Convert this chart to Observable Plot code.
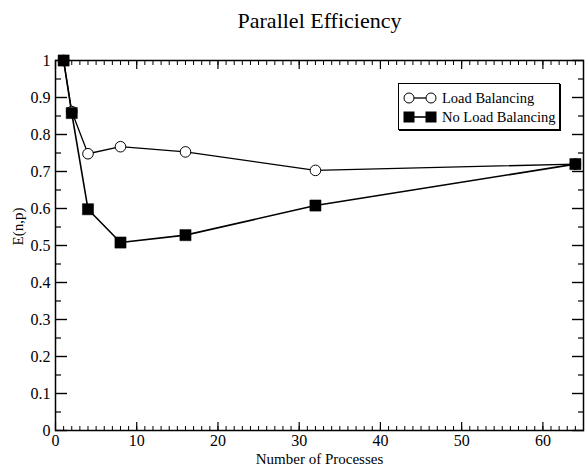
<!DOCTYPE html>
<html>
<head>
<meta charset="utf-8">
<script src="https://cdn.jsdelivr.net/npm/d3@7"></script>
<script src="https://cdn.jsdelivr.net/npm/@observablehq/plot@0.6"></script>
<style>
  html, body { margin: 0; padding: 0; background: #fff; }
  #wrap { position: relative; width: 586px; height: 467px; font-family: "Liberation Serif", serif; }
  #wrap svg text { font-family: "Liberation Serif", serif; }
  #legend { position: absolute; left: 398px; top: 83px; width: 160px; height: 45px; border: 1px solid #000; background: #fff; box-shadow: 1px 1px 0 #000; font-size: 14.5px; color: #000; font-family: "Liberation Serif", serif; }
  #legend .row { position: absolute; left: 4px; width: 156px; height: 16px; display: flex; align-items: center; white-space: nowrap; }
  #legend svg { margin-right: 5px; flex: none; }
</style>
</head>
<body>
<div id="wrap"></div>
<script>
const title = "Parallel Efficiency";
const xLabel = "Number of Processes";
const yLabel = "E(n,p)";
const procs = [1, 2, 4, 8, 16, 32, 64];
const effLB = [1.0, 0.862, 0.748, 0.767, 0.753, 0.703, 0.72];
const effNoLB = [1.0, 0.858, 0.598, 0.508, 0.528, 0.608, 0.72];
const seriesNames = ["Load Balancing", "No Load Balancing"];
const xTicks = [0, 10, 20, 30, 40, 50, 60];
const xMinorTicks = d3.range(0, 66, 1);
const yTicks = [0, 0.1, 0.2, 0.3, 0.4, 0.5, 0.6, 0.7, 0.8, 0.9, 1];
const yMinorTicks = [0.05, 0.15, 0.25, 0.35, 0.45, 0.55, 0.65, 0.75, 0.85, 0.95];

const lb = procs.map((p, i) => ({p, e: effLB[i]}));
const nlb = procs.map((p, i) => ({p, e: effNoLB[i]}));

const fmt = d => String(d);
const FF = "Liberation Serif";

const chart = Plot.plot({
  width: 586,
  height: 467,
  marginTop: 60,
  marginBottom: 37,
  marginLeft: 55,
  marginRight: 3,
  x: {domain: [0, 65]},
  y: {domain: [0, 1]},
  style: {fontFamily: FF, fontSize: "14px", color: "#000", background: "#fff"},
  marks: [
    Plot.axisX(xMinorTicks, {anchor: "bottom", tickSize: -4, tickFormat: () => "", label: null, strokeWidth: 1}),
    Plot.axisX(xTicks, {anchor: "bottom", tickSize: -8, tickFormat: () => "", label: null, strokeWidth: 1.2}),
    Plot.axisX(xMinorTicks, {anchor: "top", tickSize: -4, tickFormat: () => "", label: null, strokeWidth: 1}),
    Plot.axisX(xTicks, {anchor: "top", tickSize: -8, tickFormat: () => "", label: null, strokeWidth: 1.2}),
    Plot.axisX(xTicks, {anchor: "bottom", tickSize: 0, tickPadding: 4, tickFormat: fmt, label: null, fontSize: 16, fontFamily: FF}),
    Plot.axisY(yMinorTicks, {anchor: "left", tickSize: -6, tickFormat: () => "", label: null, strokeWidth: 1.2}),
    Plot.axisY(yTicks, {anchor: "left", tickSize: -12, tickFormat: () => "", label: null, strokeWidth: 1.4}),
    Plot.axisY(yMinorTicks, {anchor: "right", tickSize: -6, tickFormat: () => "", label: null, strokeWidth: 1.2}),
    Plot.axisY(yTicks, {anchor: "right", tickSize: -12, tickFormat: () => "", label: null, strokeWidth: 1.4}),
    Plot.axisY(yTicks, {anchor: "left", tickSize: 0, tickPadding: 5, tickFormat: fmt, label: null, fontSize: 16, fontFamily: FF}),
    Plot.frame({stroke: "#000", strokeWidth: 1.5}),
    Plot.line(lb, {x: "p", y: "e", stroke: "#000", strokeWidth: 1.3}),
    Plot.line(nlb, {x: "p", y: "e", stroke: "#000", strokeWidth: 1.6}),
    Plot.dot(lb, {x: "p", y: "e", r: 5.3, symbol: "circle", fill: "#fff", stroke: "#000", strokeWidth: 1}),
    Plot.dot(nlb, {x: "p", y: "e", r: 6.3, symbol: "square", fill: "#000", stroke: "#000", strokeWidth: 0.5}),
    Plot.text([title], {frameAnchor: "top", dy: -40, fontSize: 22, lineAnchor: "middle", fontFamily: FF}),
    Plot.text([xLabel], {frameAnchor: "bottom", dy: 29, fontSize: 15, lineAnchor: "middle", fontFamily: FF}),
    Plot.text([yLabel], {frameAnchor: "left", dx: -37, rotate: -90, fontSize: 15, lineAnchor: "middle", fontFamily: FF})
  ]
});

const wrap = document.getElementById("wrap");
wrap.appendChild(chart);

const legend = document.createElement("div");
legend.id = "legend";
const symLB = `<svg width="34" height="14"><line x1="6" y1="7" x2="28" y2="7" stroke="#000" stroke-width="1.3"/><circle cx="6" cy="7" r="5" fill="#fff" stroke="#000"/><circle cx="28" cy="7" r="5" fill="#fff" stroke="#000"/></svg>`;
const symNLB = `<svg width="34" height="14"><line x1="6" y1="7" x2="28" y2="7" stroke="#000" stroke-width="1.6"/><rect x="0.5" y="1.5" width="11" height="11" fill="#000"/><rect x="22.5" y="1.5" width="11" height="11" fill="#000"/></svg>`;
legend.innerHTML = `<div class="row" style="top:6px">${symLB}<span>${seriesNames[0]}</span></div>` +
                   `<div class="row" style="top:25px">${symNLB}<span>${seriesNames[1]}</span></div>`;
wrap.appendChild(legend);
</script>
</body>
</html>
